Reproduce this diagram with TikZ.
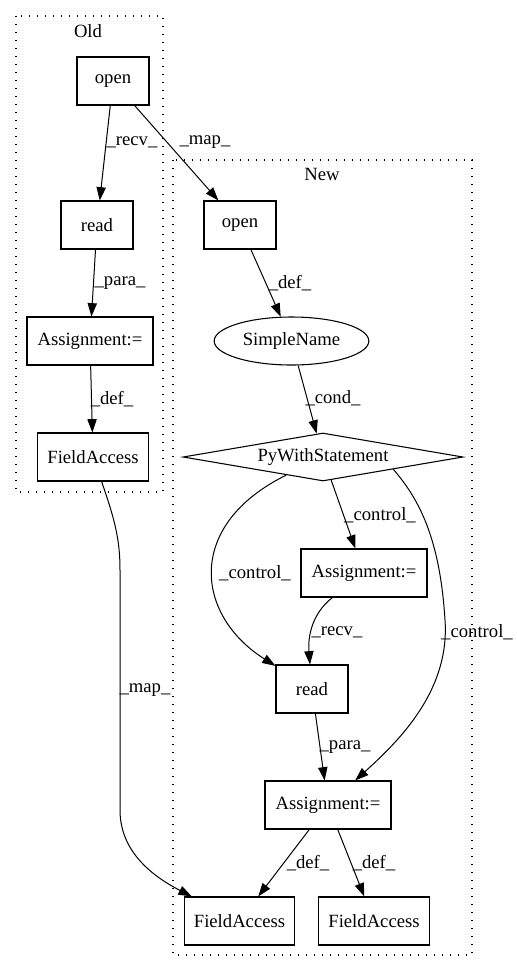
\documentclass[tikz,border=0pt]{standalone}
\usepackage{fontspec}
\setmainfont{Liberation Serif}
\usetikzlibrary{arrows.meta,shapes.geometric}

\tikzset{
  box/.style={draw,line width=0.8pt,minimum height=36pt,inner sep=2pt,font=\fontsize{14}{16}\selectfont},
  oval/.style={box,ellipse,minimum width=116pt},
  decide/.style={box,diamond,aspect=5,inner sep=0pt,minimum width=210pt},
  lbl/.style={inner sep=0pt,font=\fontsize{14}{16}\selectfont},
  cluster/.style={line width=1pt,dash pattern=on 1pt off 5pt},
  edge/.style={line width=0.75pt,-{Triangle[length=10pt,width=7pt]}}
}

\begin{document}
\begin{tikzpicture}[x=0.75pt,y=-0.75pt]
            \useasboundingbox (0,0) rectangle (517,972);
            \draw[cluster] (16,16) rectangle (163,492);
            \draw[cluster] (173,160) rectangle (472,955);
            \node[lbl] (oldtitle) at (88,31) {Old};
            \node[lbl] (newtitle) at (322,174) {New};

            \node[box,minimum width=54pt] (openO) at (113,81) {open};
            \node[box,minimum width=54pt] (readO) at (97,225) {read};
            \node[box,minimum width=94.5pt] (asgO) at (90,341) {Assignment:=};
            \node[box,minimum width=83pt] (faO) at (93,457) {FieldAccess};

            \node[box,minimum width=54pt] (openN) at (240,225) {open};
            \node[oval] (sname) at (291.5,341) {SimpleName};
            \node[decide] (py) at (323,457) {PyWithStatement};
            \node[box,minimum width=94.5pt] (asgT) at (364,573) {Assignment:=};
            \node[box,minimum width=54pt] (readN) at (312,689) {read};
            \node[box,minimum width=94.5pt] (asgB) at (328,805) {Assignment:=};
            \node[box,minimum width=83pt] (faN1) at (239.5,921) {FieldAccess};
            \node[box,minimum width=83pt] (faN2) at (374,921) {FieldAccess};

            \draw[edge] (openO) -- (readO);
            \node[lbl] at (132,142) {\_recv\_};
            \draw[edge] (openO) -- (openN);
            \node[lbl] at (205,142) {\_map\_};
            \draw[edge] (readO) -- (asgO);
            \node[lbl] at (120,283) {\_para\_};
            \draw[edge] (asgO) -- (faO);
            \node[lbl] at (112,399) {\_def\_};
            \draw[edge] (faO) .. controls (115,520) and (120,540) .. (120,570) -- (120,810) .. controls (120,850) and (150,875) .. (faN1);
            \node[lbl] at (145,690) {\_map\_};

            \draw[edge] (openN) -- (sname);
            \node[lbl] at (290,283) {\_def\_};
            \draw[edge] (sname) -- (py);
            \node[lbl] at (333,398) {\_cond\_};
            \draw[edge] (py) -- (asgT);
            \node[lbl] at (380,515) {\_control\_};
            \draw[edge] (py) .. controls (185,525) and (195,615) .. (readN);
            \node[lbl] at (255,573) {\_control\_};
            \draw[edge] (py.south east) .. controls (420,500) and (440,540) .. (445,620) .. controls (450,690) and (400,740) .. (asgB);
            \node[lbl] at (477,632) {\_control\_};
            \draw[edge] (asgT) .. controls (310,615) and (308,640) .. (readN);
            \node[lbl] at (337,632) {\_recv\_};
            \draw[edge] (readN) -- (asgB);
            \node[lbl] at (345,747) {\_para\_};
            \draw[edge] (asgB) -- (faN1);
            \node[lbl] at (308,863) {\_def\_};
            \draw[edge] (asgB) -- (faN2);
            \node[lbl] at (374,863) {\_def\_};
        \end{tikzpicture}
\end{document}
